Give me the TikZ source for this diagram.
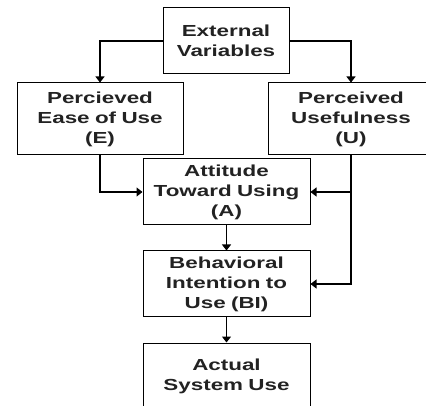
\documentclass[tikz,border=0pt]{standalone}
\usepackage{fontspec}
\setmainfont[FakeStretch=1.4]{Liberation Sans}
\usetikzlibrary{arrows.meta}
\definecolor{txt}{HTML}{222222}
\tikzset{
  box/.style={draw=black, line width=1pt, inner sep=0pt, align=center,
    text=txt, font=\bfseries\fontsize{16}{20}\selectfont,
    minimum height=66pt, text width=#1},
  box/.default=126pt,
  conn/.style={draw=black, line width=1.1pt, -{Triangle[width=9pt,length=6pt]}}
}
\begin{document}
\begin{tikzpicture}[x=1pt,y=-1pt]
\useasboundingbox (0,0) rectangle (426,406);
\clip (0,0) rectangle (426,406);
\node[box=126pt] (ev) at (226,41) {External\\Variables};
\node[box=166pt, minimum height=72pt] (peu) at (100,119) {Percieved\\Ease of Use\\(E)};
\node[box=166pt, minimum height=72pt] (pu) at (351,119) {Perceived\\Usefulness\\(U)};
\node[box=167pt] (a) at (226.5,192) {Attitude\\Toward Using\\(A)};
\node[box=167pt] (bi) at (226.5,284) {Behavioral\\Intention to\\Use (BI)};
\node[box=167pt] (as) at (226.5,376) {Actual\\System Use};
\draw[conn] (ev.west) -| (peu.north);
\draw[conn] (ev.east) -| (pu.north);
\draw[conn] (peu.south) |- (a.west);
\draw[conn] (pu.south) |- (a.east);
\draw[conn] (pu.south) |- (bi.east);
\draw[conn] (a.south) -- (bi.north);
\draw[conn] (bi.south) -- (as.north);
\end{tikzpicture}
\end{document}
